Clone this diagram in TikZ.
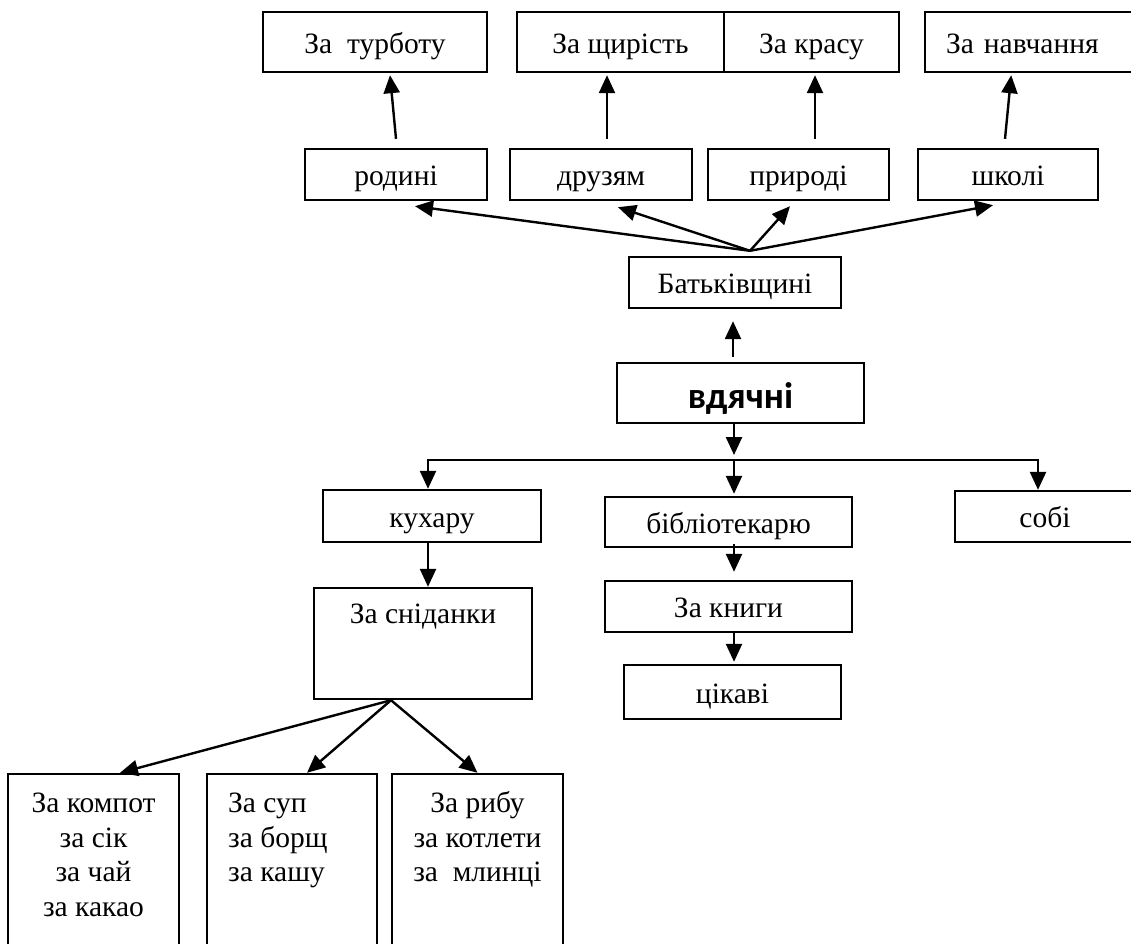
\documentclass[tikz,border=0pt]{standalone}
\usepackage{fontspec}
\setmainfont{Liberation Serif}
\newfontfamily\boldsans{Carlito}
\usetikzlibrary{positioning, arrows.meta}

\begin{document}
\begin{tikzpicture}[x=1pt, y=-1pt,
    box/.style={draw, line width=2.4pt, inner sep=0pt, text height=28pt, text depth=6pt,
        font=\fontsize{29.5}{34.5}\selectfont},
    txt/.style={inner sep=0pt, align=center, font=\fontsize{29.5}{34.5}\selectfont},
    arr/.style={-{Triangle[length=18pt, width=16pt]}, line width=2.4pt}]
    \useasboundingbox (0,0) rectangle (1131,943);

    % verhnii riad
    \node[box, minimum width=224pt, minimum height=60pt] (turbota) at (375,42) {За\ \ турботу};
    \node[box, minimum width=207pt, minimum height=60pt] (shchyrist) at (620.5,42) {За щирість};
    \node[box, minimum width=175pt, minimum height=60pt] (krasa) at (811.5,42) {За красу};
    \node[box, minimum height=60pt, anchor=west, inner xsep=21pt, text width=178pt, align=left] (navch) at (924,42) {За навчання};

    \node[box, minimum width=182pt, minimum height=51pt] (rodyni) at (396,174.5) {родині};
    \node[box, minimum width=182pt, minimum height=51pt] (druzi) at (601,174.5) {друзям};
    \node[box, minimum width=181pt, minimum height=51pt] (pryroda) at (798.5,174.5) {природі};
    \node[box, minimum width=180pt, minimum height=51pt] (shkola) at (1008,174.5) {школі};

    \node[box, minimum width=212pt, minimum height=51pt] (batk) at (735,282.5) {Батьківщині};
    \node[box, minimum width=247pt, minimum height=60pt, text height=34pt, text depth=4pt,
        font=\boldsans\bfseries\fontsize{37}{42}\selectfont] (vdiachni) at (740.5,393) {вдячні};

    % nyzhnii riad
    \node[box, minimum width=218pt, minimum height=52pt] (kukhar) at (432,516) {кухару};
    \node[box, minimum width=218pt, minimum height=111pt] (snidanky) at (423,643.5) {};
    \node[txt, anchor=base] (snidanky-t) at ([yshift=-37pt]snidanky.north) {За сніданки};

    \node[box, minimum width=247pt, minimum height=50pt] (bibl) at (728.5,522) {бібліотекарю};
    \node[box, minimum width=247pt, minimum height=51pt] (knyhy) at (728.5,606.5) {За книги};
    \node[box, minimum width=217pt, minimum height=54pt] (tsikavi) at (732.5,692) {цікаві};
    \node[box, minimum width=180pt, minimum height=51pt] (sobi) at (1045,516.5) {собі};

    \node[box, minimum width=171pt, minimum height=226pt] (kompot) at (93.5,887) {};
    \node[box, minimum width=170pt, minimum height=226pt] (sup) at (292,887) {};
    \node[box, minimum width=171pt, minimum height=226pt] (ryba) at (477.5,887) {};
    \node[txt, anchor=base] (kompot-t) at ([yshift=-143.5pt]kompot.north) {За компот\\за сік\\за чай\\за какао};
    \node[txt, anchor=base west, align=left] (sup-t) at ([xshift=-64pt,yshift=-109pt]sup.north) {За суп\\за борщ\\за кашу};
    \node[txt, anchor=base] (ryba-t) at ([yshift=-109pt]ryba.north) {За рибу\\за котлети\\за\ \ млинці};

    \coordinate (bfan) at ([xshift=15pt,yshift=5pt]batk.north);
    \coordinate (sfan) at ([xshift=-32pt]snidanky.south);
    \coordinate (bus) at (734,460);

    \path[arr]
        ([yshift=9pt]rodyni.north) edge ([xshift=15pt,yshift=-2pt]turbota.south)
        ([xshift=6pt,yshift=9pt]druzi.north) edge ([xshift=-13.5pt,yshift=-2pt]shchyrist.south)
        ([xshift=16.5pt,yshift=9pt]pryroda.north) edge ([xshift=3.5pt,yshift=-2pt]krasa.south)
        ([xshift=-3pt,yshift=9pt]shkola.north) edge ([xshift=-24pt,yshift=-2pt]navch.south)
        (bfan) edge ([xshift=19pt,yshift=-5pt]rodyni.south)
        (bfan) edge ([xshift=17pt,yshift=-6pt]druzi.south)
        (bfan) edge ([xshift=-8.5pt,yshift=-5pt]pryroda.south)
        (bfan) edge ([xshift=-15pt,yshift=-4pt]shkola.south)
        ([xshift=-7.5pt,yshift=5pt]vdiachni.north) edge ([xshift=-2pt,yshift=-12pt]batk.south)
        ([xshift=-6.5pt]vdiachni.south) edge ([yshift=5pt]bus);

    \draw[arr] (bus) -| ([xshift=-4pt]kukhar.north);
    \draw[arr] (bus) -| ([xshift=-7pt]sobi.north);
    \draw[arr] (bus) -- ([xshift=5.5pt,yshift=2pt]bibl.north);

    \path[arr]
        ([xshift=-4pt]kukhar.south) edge ([xshift=5pt]snidanky.north)
        ([xshift=5.5pt,yshift=4pt]bibl.south) edge ([xshift=5.5pt,yshift=8pt]knyhy.north)
        ([xshift=5.5pt]knyhy.south) edge ([xshift=1.5pt,yshift=2pt]tsikavi.north)
        (sfan) edge ([xshift=26.5pt]kompot.north)
        (sfan) edge ([xshift=15pt]sup.north)
        (sfan) edge (ryba.north);
\end{tikzpicture}
\end{document}
